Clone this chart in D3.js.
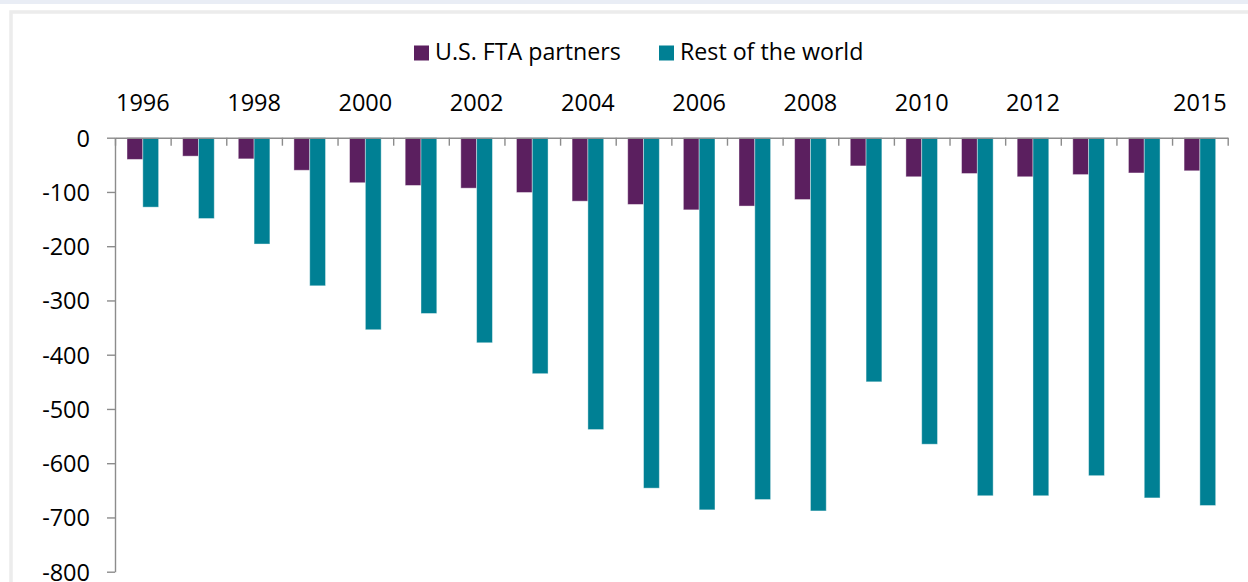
<!DOCTYPE html>
<html>
<head>
<meta charset="utf-8">
<script src="https://cdn.jsdelivr.net/npm/d3@7"></script>
<style>
  html, body { margin: 0; padding: 0; background: #fff; }
  svg { display: block; }
  text { font-family: "Open Sans", "Noto Sans", sans-serif; fill: #000; }
</style>
</head>
<body>
<svg id="chart" width="1248" height="582"></svg>
<script>
const years = ["1996","1997","1998","1999","2000","2001","2002","2003","2004","2005",
               "2006","2007","2008","2009","2010","2011","2012","2013","2014","2015"];
const ftaPartners = [-40,-34,-39,-60,-83,-88,-93,-101,-117,-123,-133,-126,-114,-52,-72,-66,-72,-68,-65,-61];
const restOfWorld = [-128,-149,-196,-273,-354,-324,-378,-435,-538,-646,-686,-667,-688,-450,-565,-660,-660,-623,-664,-678];
const xTickLabels = ["1996","1998","2000","2002","2004","2006","2008","2010","2012","2015"];
const yTicks = [0,-100,-200,-300,-400,-500,-600,-700,-800];
const seriesNames = ["U.S. FTA partners", "Rest of the world"];
const colors = ["#5b1f5f", "#008094"];

(function () {
const svg = d3.select("#chart");

// background frame
svg.append("rect").attr("x",0).attr("y",0).attr("width",1248).attr("height",4).attr("fill","#e9edf5");
svg.append("rect").attr("x",11).attr("y",12).attr("width",1300).attr("height",700)
  .attr("fill","#fff").attr("stroke","#ececec").attr("stroke-width",3.5);

const mLeft = 115, mRight = 1227.7, mTop = 137.7, mBottom = 571.7;

const x = d3.scaleBand().domain(years).range([mLeft, mRight]).paddingInner(0).paddingOuter(0);
const xSub = d3.scaleBand().domain([0,1]).range([0, x.bandwidth()]).paddingInner(0).paddingOuter(0.76);
const y = d3.scaleLinear().domain([-800, 0]).range([mBottom, mTop]);

const data = years.map((yr, i) => ({ year: yr, values: [ftaPartners[i], restOfWorld[i]] }));

// bars
const groups = svg.append("g").selectAll("g").data(data).join("g")
  .attr("transform", d => `translate(${x(d.year)},0)`);
groups.selectAll("rect").data(d => d.values.map((v, k) => ({ v, k }))).join("rect")
  .attr("x", d => xSub(d.k))
  .attr("width", xSub.bandwidth())
  .attr("y", d => y(0))
  .attr("height", d => y(d.v) - y(0))
  .attr("fill", d => colors[d.k])
  .attr("stroke", "#ffffff").attr("stroke-opacity", 0.45).attr("stroke-width", 0.9);

const fs = 23.5;

// y axis
const yAxis = svg.append("g").attr("transform", `translate(${mLeft},0)`)
  .call(d3.axisLeft(y).tickValues(yTicks).tickFormat(d => String(d)).tickSize(8).tickSizeOuter(0).tickPadding(17));
yAxis.select(".domain").attr("stroke", "#8c8c8c").attr("stroke-width", 1.4);
yAxis.selectAll(".tick line").attr("stroke", "#8c8c8c").attr("stroke-width", 1.4);
yAxis.selectAll(".tick text").attr("font-size", fs).attr("dy", "0.36em")
  .style("font-family", "'Open Sans', sans-serif").attr("fill", "#000");

// x axis (boundary ticks)
const xb = d3.scaleLinear().domain([0, years.length]).range([mLeft, mRight]);
const xAxis = svg.append("g").attr("transform", `translate(0,${mTop})`)
  .call(d3.axisBottom(xb).tickValues(d3.range(0, years.length + 1)).tickFormat("").tickSize(8).tickSizeOuter(0));
xAxis.select(".domain").attr("stroke", "#8c8c8c").attr("stroke-width", 1.4);
xAxis.selectAll(".tick line").attr("stroke", "#8c8c8c").attr("stroke-width", 1.4);

// x labels above the axis
const xLab = svg.append("g").attr("transform", `translate(0,111)`)
  .call(d3.axisTop(x).tickValues(xTickLabels).tickSize(0).tickPadding(0));
xLab.select(".domain").remove();
xLab.selectAll(".tick text").attr("font-size", fs).attr("dy", 0)
  .style("font-family", "'Open Sans', sans-serif").attr("fill", "#000");

// legend
const legendPos = [414, 659];
const lg = svg.append("g").selectAll("g").data(seriesNames).join("g")
  .attr("transform", (d, i) => `translate(${legendPos[i]},0)`);
lg.append("rect").attr("x", 0).attr("y", 45.5).attr("width", 15).attr("height", 15)
  .attr("fill", (d, i) => colors[i]);
lg.append("text").attr("x", 21).attr("y", 60).attr("font-size", 23.2).text(d => d);
})();
</script>
</body>
</html>
